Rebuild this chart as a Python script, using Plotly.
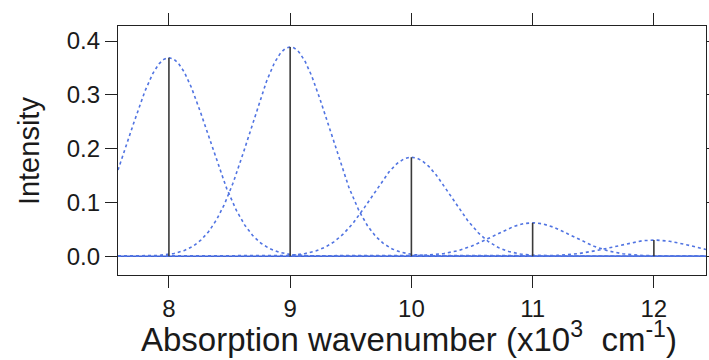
import numpy as np
import plotly.graph_objects as go

# Stick spectrum (centres in 10^3 cm^-1, intensities)
centers = [8.0, 9.0, 10.0, 11.0, 12.0]
heights = [0.369, 0.389, 0.184, 0.062, 0.030]
band_sigma = 0.325  # Gaussian broadening width

x_ticks = [8, 9, 10, 11, 12]
y_ticks = [0.0, 0.1, 0.2, 0.3, 0.4]
y_tick_labels = ["0.0", "0.1", "0.2", "0.3", "0.4"]
x_range = [7.58, 12.43]
y_range = [-0.035, 0.428]

x_title = "Absorption wavenumber (x10<sup>3</sup>  cm<sup>-1</sup>)"
y_title = "Intensity"

fig = go.Figure()

grid = np.linspace(x_range[0], x_range[1], 600)

# baseline
fig.add_trace(go.Scatter(x=x_range, y=[0, 0], mode="lines",
                         line=dict(color="#3f62d6", width=1.6),
                         hoverinfo="skip", showlegend=False))

# broadened bands (dotted)
for c, h in zip(centers, heights):
    fig.add_trace(go.Scatter(
        x=grid, y=h * np.exp(-(grid - c) ** 2 / (2 * band_sigma ** 2)),
        mode="lines", line=dict(color="#5174e2", width=1.6, dash="dot"),
        showlegend=False))

# sticks
for c, h in zip(centers, heights):
    fig.add_trace(go.Scatter(x=[c, c], y=[0, h], mode="lines",
                             line=dict(color="#3a3a3a", width=1.6),
                             showlegend=False))

font_family = "Liberation Sans, Arial, sans-serif"

axis_common = dict(showline=True, linecolor="#222", linewidth=1.3, mirror="ticks",
                   ticks="outside", ticklen=12, tickwidth=1.3, tickcolor="#222",
                   showgrid=False, zeroline=False, automargin=False,
                   tickfont=dict(size=24))

fig.update_layout(
    width=709, height=360,
    margin=dict(l=118, r=3, t=26, b=85),
    paper_bgcolor="white", plot_bgcolor="white",
    font=dict(family=font_family, color="#1a1a1a"),
    xaxis=dict(range=x_range, tickvals=x_ticks, ticktext=[str(v) for v in x_ticks],
               **axis_common),
    yaxis=dict(range=y_range, tickvals=y_ticks, ticktext=y_tick_labels,
               **axis_common),
    annotations=[
        dict(text=x_title, xref="paper", yref="paper", x=0.495, y=-0.155,
             xanchor="center", yanchor="top", showarrow=False,
             font=dict(size=33)),
        dict(text=y_title, xref="paper", yref="paper", x=-0.152, y=0.5,
             xanchor="center", yanchor="middle", showarrow=False, textangle=-90,
             font=dict(size=29)),
    ],
)

fig.write_html("out.html", config={"displayModeBar": False},
               post_script="document.body.style.margin='0';document.body.style.overflow='hidden';")
